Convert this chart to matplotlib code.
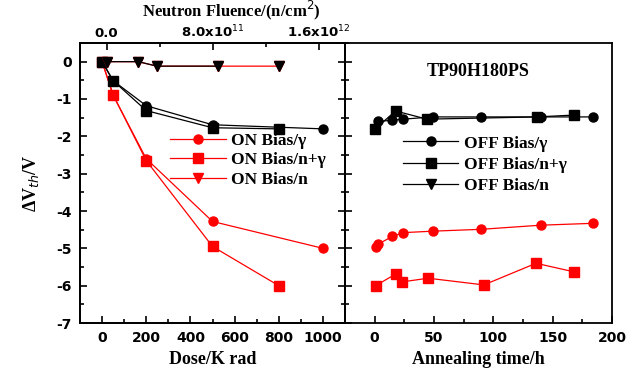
import numpy as np
import matplotlib
matplotlib.use("Agg")
import matplotlib.pyplot as plt
from matplotlib.ticker import MultipleLocator, FixedLocator, FixedFormatter

plt.rcParams["axes.unicode_minus"] = False

# irradiation (left panel), dose in krad
dose_on_g = [0, 50, 200, 500, 1000]
on_g = [0, -0.9, -2.6, -4.28, -5.0]
dose_on_ng = [0, 50, 200, 500, 800]
on_ng = [0, -0.89, -2.65, -4.95, -6.0]
dose_off_g = [0, 50, 200, 500, 1000]
off_g = [0, -0.51, -1.18, -1.69, -1.8]
dose_off_ng = [0, 50, 200, 500, 800]
off_ng = [0, -0.51, -1.31, -1.77, -1.8]

# neutron-only series, plotted against fluence (n/cm2)
fluence = [0, 0.24e12, 0.38e12, 0.84e12, 1.3e12]
on_n = [0, 0, -0.12, -0.12, -0.12]
off_n = [0, 0, -0.12, -0.12, -0.12]

# annealing (right panel), time in h
t_on_g = [0.8, 2.7, 15, 24, 49, 90, 140, 184]
ann_on_g = [-4.97, -4.89, -4.68, -4.58, -4.54, -4.49, -4.38, -4.33]
t_on_ng = [0.8, 17.6, 23, 45, 92, 136, 168]
ann_on_ng = [-6.0, -5.69, -5.9, -5.8, -5.98, -5.4, -5.63]
t_off_g = [2.5, 15, 24, 49, 90, 140, 184]
ann_off_g = [-1.6, -1.57, -1.54, -1.48, -1.48, -1.48, -1.48]
t_off_ng = [0.5, 17.6, 44, 137, 168]
ann_off_ng = [-1.8, -1.32, -1.54, -1.48, -1.43]

fluence_ticks = [0, 8e11, 1.6e12]
fluence_labels = ["0.0", "8.0x10$^{11}$", "1.6x10$^{12}$"]

RED = "#ff0000"
tick_font = {"family": "DejaVu Sans", "weight": "bold", "size": 10}
top_tick_font = {"family": "DejaVu Sans", "weight": "bold", "size": 9.5}
label_font = {"family": "Liberation Serif", "weight": "bold", "size": 13}
top_label_font = {"family": "Liberation Serif", "weight": "bold", "size": 12}
leg_font = {"family": "Liberation Serif", "weight": "bold", "size": 12.5}

fig = plt.figure(figsize=(6.37, 3.81), dpi=100)
ax1 = fig.add_axes([80 / 637, 1 - 323 / 381, 265 / 637, 280 / 381])
ax2 = fig.add_axes([345 / 637, 1 - 323 / 381, 267 / 637, 280 / 381])

lw = 0.9
ms = 6.5

# ---- left panel
ax1.plot(dose_on_g, on_g, color=RED, marker="o", lw=lw, ms=ms, label="ON Bias/\u03b3")
ax1.plot(dose_on_ng, on_ng, color=RED, marker="s", lw=lw, ms=ms, label="ON Bias/n+\u03b3")
ax1.plot(dose_off_g, off_g, color="k", marker="o", lw=lw, ms=ms)
ax1.plot(dose_off_ng, off_ng, color="k", marker="s", lw=lw, ms=ms)
ax1.plot([], [], color=RED, marker="v", lw=lw, ms=ms, label="ON Bias/n")

ax1.set_xlim(-100, 1100)
ax1.set_ylim(-7, 0.5)
ax1.xaxis.set_major_locator(MultipleLocator(200))
ax1.xaxis.set_minor_locator(MultipleLocator(100))
ax1.yaxis.set_major_locator(MultipleLocator(1))
ax1.yaxis.set_minor_locator(MultipleLocator(0.5))
ax1.tick_params(which="both", direction="in", top=False, right=True, width=1.2)
ax1.tick_params(which="major", length=5, pad=6)
ax1.tick_params(which="minor", length=3)
for lab in ax1.get_xticklabels() + ax1.get_yticklabels():
    lab.set_fontproperties(tick_font)
ax1.set_xlabel("Dose/K rad", fontdict=label_font, labelpad=4)
ax1.set_ylabel("\u0394V$_{th}$/V", fontdict=label_font, labelpad=11)

# top axis: neutron fluence
axt = ax1.twiny()
axt.set_xlim(-2e11, 1.8e12)
axt.plot(fluence, on_n, color=RED, marker="v", lw=lw, ms=ms, zorder=2)
axt.plot(fluence[:4], off_n[:4], color="k", lw=lw, zorder=3)
axt.plot(fluence, off_n, color="k", marker="v", ls="none", ms=ms, zorder=4)
axt.xaxis.set_major_locator(FixedLocator(fluence_ticks))
axt.xaxis.set_major_formatter(FixedFormatter(fluence_labels))
axt.xaxis.set_minor_locator(MultipleLocator(4e11))
axt.tick_params(which="both", direction="in", width=1.2, pad=2)
axt.tick_params(which="major", length=5)
axt.tick_params(which="minor", length=3)
for lab in axt.get_xticklabels():
    lab.set_fontproperties(top_tick_font)
axt.set_xlabel("Neutron Fluence/(n/cm$^{2}$)", fontdict=top_label_font)
axt.xaxis.set_label_coords(0.57, 1.095)

ax1.legend(loc="upper left", bbox_to_anchor=(0.34, 0.68), frameon=False,
           prop=leg_font, handlelength=3.2, handletextpad=0.3,
           labelspacing=0.2, numpoints=1, borderaxespad=0, borderpad=0)

# ---- right panel
ax2.plot(t_off_g, ann_off_g, color="k", marker="o", lw=lw, ms=ms, label="OFF Bias/\u03b3")
ax2.plot(t_off_ng, ann_off_ng, color="k", marker="s", lw=lw, ms=ms, label="OFF Bias/n+\u03b3")
ax2.plot([], [], color="k", marker="v", lw=lw, ms=ms, label="OFF Bias/n")
ax2.plot(t_on_g, ann_on_g, color=RED, marker="o", lw=lw, ms=ms)
ax2.plot(t_on_ng, ann_on_ng, color=RED, marker="s", lw=lw, ms=ms)

ax2.set_xlim(-25, 200)
ax2.set_ylim(-7, 0.5)
ax2.xaxis.set_major_locator(MultipleLocator(50))
ax2.xaxis.set_minor_locator(MultipleLocator(25))
ax2.yaxis.set_major_locator(MultipleLocator(1))
ax2.yaxis.set_minor_locator(MultipleLocator(0.5))
ax2.tick_params(which="both", direction="in", left=True, right=False, top=False,
                labelleft=False, width=1.2)
ax2.tick_params(which="major", length=5, pad=6)
ax2.tick_params(which="minor", length=3)
for lab in ax2.get_xticklabels():
    lab.set_fontproperties(tick_font)
ax2.set_xlabel("Annealing time/h", fontdict=label_font, labelpad=4)
ax2.text(0.5, 0.9, "TP90H180PS", transform=ax2.transAxes, ha="center", va="center",
         fontdict=label_font)

ax2.legend(loc="upper left", bbox_to_anchor=(0.217, 0.67), frameon=False,
           prop=leg_font, handlelength=3.2, handletextpad=0.3,
           labelspacing=0.3, numpoints=1, borderaxespad=0, borderpad=0)

for a in (ax1, ax2, axt):
    for s in a.spines.values():
        s.set_linewidth(1.3)

fig.savefig("out.png", dpi=100)
